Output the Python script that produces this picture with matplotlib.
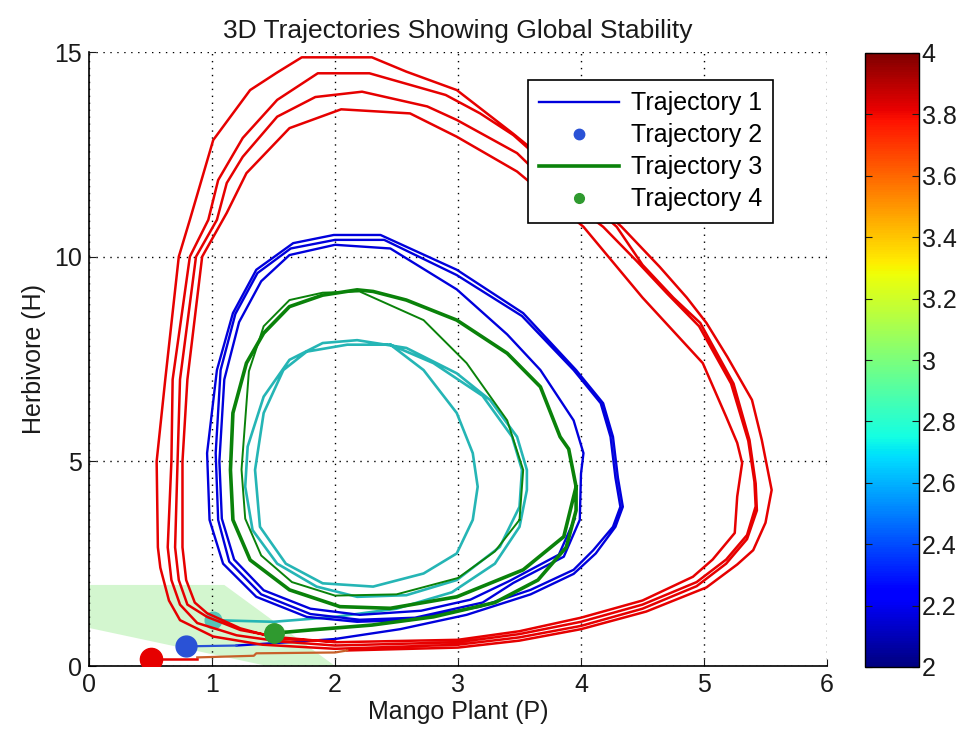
import matplotlib
matplotlib.use("Agg")
import matplotlib.pyplot as plt
from matplotlib.patches import Polygon
from matplotlib.cm import ScalarMappable
from matplotlib.colors import Normalize

plt.rcParams['font.family'] = ['Liberation Sans', 'DejaVu Sans']

# start points (P, H)
red_start = (0.50, 0.18)
blue_start = (0.79, 0.48)
green_start = (1.50, 0.80)
cyan_start = (1.01, 1.12)

# red trajectory: lead-in + four loops
red_lead = [(0.50, 0.18), (0.88, 0.18)]
brown_lead = [(0.88, 0.21), (1.34, 0.25), (1.36, 0.31), (2.0, 0.33), (2.1, 0.38)]
red_loop1 = [(2.1, 0.38), (3.0, 0.45), (3.5, 0.62), (4.0, 0.9), (4.53, 1.33), (5.02, 1.92),
             (5.27, 2.48), (5.4, 2.83), (5.5, 3.5), (5.55, 4.3), (5.47, 5.52), (5.39, 6.5),
             (5.19, 7.55), (5.02, 8.38), (4.86, 9.0), (4.64, 9.75), (4.33, 10.73), (3.9, 11.9),
             (3.45, 13.0), (2.99, 14.07), (2.58, 14.52), (2.3, 14.87), (1.73, 14.87), (1.53, 14.5),
             (1.31, 14.07), (1.01, 12.85), (0.82, 10.9), (0.73, 10.0), (0.62, 7.0), (0.55, 5.0),
             (0.56, 2.9), (0.58, 2.4), (0.65, 1.6), (0.74, 1.12), (1.01, 0.72), (1.41, 0.52),
             (2.0, 0.42)]
red_loop2 = [(2.0, 0.42), (3.0, 0.52), (3.5, 0.7), (4.0, 0.98), (4.5, 1.4), (4.94, 1.95),
             (5.18, 2.5), (5.35, 3.1), (5.43, 3.8), (5.42, 4.46), (5.37, 5.52), (5.24, 6.9),
             (4.97, 8.38), (4.75, 9.0), (4.5, 9.8), (4.29, 10.73), (3.85, 11.9), (3.45, 12.97),
             (3.18, 13.5), (2.9, 13.95), (2.28, 14.48), (1.86, 14.48), (1.53, 13.83), (1.25, 12.9),
             (1.05, 11.87), (0.97, 10.9), (0.82, 10.0), (0.68, 7.0), (0.67, 5.0), (0.64, 2.9),
             (0.67, 2.1), (0.74, 1.5), (0.88, 1.05), (1.2, 0.75), (1.55, 0.6), (2.0, 0.5)]
red_loop3 = [(2.0, 0.5), (3.0, 0.58), (3.5, 0.78), (4.0, 1.08), (4.5, 1.5), (4.94, 2.05),
             (5.18, 2.6), (5.35, 3.2), (5.42, 3.9), (5.41, 4.5), (5.36, 5.5), (5.22, 6.9),
             (4.96, 8.3), (4.7, 9.1), (4.45, 9.9), (4.18, 10.73), (3.8, 11.6), (3.48, 12.53),
             (2.99, 13.34), (2.75, 13.67), (2.22, 14.03), (1.84, 13.9), (1.53, 13.42), (1.25, 12.44),
             (1.12, 11.8), (1.04, 10.9), (0.87, 10.0), (0.74, 7.0), (0.72, 5.0), (0.7, 2.9),
             (0.73, 2.1), (0.8, 1.5), (0.96, 1.2), (1.23, 0.88), (1.55, 0.7), (2.0, 0.58)]
red_loop4 = [(2.0, 0.58), (3.0, 0.64), (3.5, 0.85), (4.0, 1.18), (4.5, 1.6), (4.91, 2.18),
             (5.07, 2.6), (5.25, 3.25), (5.27, 4.14), (5.31, 4.96), (5.27, 5.45), (5.18, 6.09),
             (4.99, 7.4), (4.5, 9.0), (4.02, 10.73), (3.48, 12.08), (2.99, 12.93), (2.61, 13.5),
             (2.05, 13.6), (1.63, 13.14), (1.28, 12.04), (1.12, 11.07), (0.92, 10.0), (0.8, 7.0),
             (0.76, 5.0), (0.76, 2.9), (0.79, 2.1), (0.86, 1.55), (0.96, 1.29), (1.23, 0.92),
             (1.55, 0.66), (2.0, 0.6)]

# blue trajectory
blue_dot_lead = [(0.79, 0.48), (1.2, 0.5)]
blue_lead = [(1.2, 0.5), (1.72, 0.6), (2.0, 0.66), (2.53, 0.9), (3.07, 1.25),
             (3.59, 1.75), (3.94, 2.25), (4.12, 2.75), (4.28, 3.4), (4.34, 3.89), (4.3, 4.6)]
blue_loop1 = [(4.3, 4.6), (4.26, 5.6), (4.18, 6.42), (3.96, 7.23), (3.53, 8.62), (2.99, 9.68),
              (2.37, 10.53), (1.99, 10.53), (1.66, 10.33), (1.36, 9.68), (1.17, 8.62), (1.04, 7.23),
              (0.96, 5.2), (0.98, 3.57), (1.09, 2.5), (1.36, 1.69), (1.77, 1.2), (2.18, 1.08),
              (2.6, 1.12), (3.18, 1.45), (3.59, 1.86), (3.94, 2.35), (4.1, 2.83), (4.26, 3.4),
              (4.32, 3.89), (4.28, 4.6)]
blue_loop2 = [(4.28, 4.6), (4.24, 5.6), (4.16, 6.42), (3.94, 7.23), (3.52, 8.55), (2.99, 9.55),
              (2.4, 10.41), (2.0, 10.41), (1.64, 10.2), (1.37, 9.6), (1.19, 8.6), (1.07, 7.23),
              (1.03, 5.2), (1.05, 3.57), (1.14, 2.55), (1.4, 1.75), (1.8, 1.27), (2.2, 1.13),
              (2.65, 1.18), (3.2, 1.55), (3.45, 2.03), (3.86, 2.67), (3.99, 3.57), (4.0, 4.7)]
blue_loop3 = [(4.0, 4.7), (4.02, 5.2), (3.94, 6.0), (3.67, 7.23), (3.4, 8.1), (2.99, 9.2),
              (2.45, 10.2), (2.0, 10.29), (1.63, 10.04), (1.4, 9.4), (1.22, 8.4), (1.1, 7.0),
              (1.06, 5.0), (1.08, 3.6), (1.18, 2.6), (1.42, 1.85), (1.8, 1.4), (2.2, 1.25),
              (2.7, 1.35), (3.1, 1.62), (3.42, 2.08), (3.82, 2.72), (3.95, 3.6)]

# green trajectory
green_lead = [(1.5, 0.8), (1.8, 0.88), (2.3, 1.0), (2.8, 1.2), (3.3, 1.55), (3.65, 2.1),
              (3.88, 2.9), (3.96, 3.8), (3.96, 4.38)]
green_loop1 = [(3.96, 4.38), (3.9, 5.3), (3.83, 5.6), (3.67, 6.82), (3.4, 7.64), (2.99, 8.45),
               (2.58, 8.94), (2.31, 9.15), (2.18, 9.19), (1.9, 9.06), (1.63, 8.78), (1.42, 8.13),
               (1.28, 7.4), (1.17, 6.18), (1.15, 4.79), (1.17, 3.57), (1.31, 2.59), (1.63, 1.86),
               (2.04, 1.45), (2.45, 1.41), (2.99, 1.69), (3.53, 2.35), (3.86, 3.16), (3.96, 4.38)]
green_loop2 = [(3.5, 3.57), (3.53, 4.79), (3.4, 6.0), (3.07, 7.4), (2.72, 8.45), (2.2, 9.15),
               (1.9, 9.12), (1.63, 8.94), (1.42, 8.3), (1.3, 7.2), (1.24, 4.8), (1.27, 3.6),
               (1.4, 2.7), (1.65, 2.05), (2.0, 1.72), (2.5, 1.75), (3.0, 2.15), (3.3, 2.8),
               (3.5, 3.57)]

# cyan trajectory
cyan_lead = [(1.01, 1.12), (1.5, 1.08), (2.0, 1.2), (2.5, 1.4), (2.95, 1.8), (3.3, 2.5),
             (3.5, 3.4), (3.56, 4.3)]
cyan_loop1 = [(3.56, 4.3), (3.56, 4.79), (3.48, 5.6), (3.26, 6.5), (2.99, 7.15), (2.58, 7.77),
              (2.18, 7.96), (1.9, 7.89), (1.63, 7.48), (1.42, 6.58), (1.29, 5.36), (1.27, 4.38),
              (1.33, 3.32), (1.53, 2.5), (1.85, 1.94), (2.18, 1.69), (2.58, 1.73), (2.99, 2.1),
              (3.34, 2.91), (3.5, 3.89), (3.52, 4.79), (3.44, 5.6), (3.2, 6.6), (2.8, 7.4),
              (2.45, 7.85)]
cyan_loop2 = [(2.45, 7.85), (2.72, 7.23), (2.99, 6.18), (3.12, 5.2), (3.16, 4.38), (3.12, 3.57),
              (2.99, 2.75), (2.72, 2.26), (2.31, 1.94), (1.9, 2.02), (1.6, 2.5), (1.39, 3.4),
              (1.35, 4.79), (1.42, 6.18), (1.58, 7.23), (1.77, 7.68), (2.1, 7.85), (2.45, 7.85)]

# shaded plane in the corner
plane = [(0.0, 0.93), (0.0, 1.98), (1.1, 1.98), (2.0, 0.0), (1.45, 0.0)]

x_ticks = [0, 1, 2, 3, 4, 5, 6]
y_ticks = [0, 5, 10, 15]
cbar_ticks = [2, 2.2, 2.4, 2.6, 2.8, 3, 3.2, 3.4, 3.6, 3.8, 4]
cbar_labels = ['2', '2.2', '2.4', '2.6', '2.8', '3', '3.2', '3.4', '3.6', '3.8', '4']
legend_labels = ['Trajectory 1', 'Trajectory 2', 'Trajectory 3', 'Trajectory 4']

red = '#e60000'
blue = '#0000dc'
green = '#0a820a'
cyan = '#25b5b5'
txt = '#1a1a1a'
fs = 18


def xs(pts):
    return [p[0] for p in pts]


def ys(pts):
    return [p[1] for p in pts]


def join(*loops):
    out = []
    for l in loops:
        out += l
    return out


fig = plt.figure(figsize=(9.65, 7.31), dpi=100)
ax = fig.add_axes([89 / 965, 1 - 666 / 731, 738 / 965, 614 / 731])
cax = fig.add_axes([865 / 965, 1 - 667 / 731, 54 / 965, 614 / 731])

ax.add_patch(Polygon(plane, closed=True, facecolor='#d3f6cf', edgecolor='none', zorder=0))

# legend handles first (as in the original figure)
blue_path = join(blue_lead, blue_loop1, blue_loop2, blue_loop3)
b_line, = ax.plot(xs(blue_path), ys(blue_path), color=blue, lw=1.7, zorder=3)
ax.plot(xs(blue_dot_lead), ys(blue_dot_lead), color='#2a52d6', lw=1.6, zorder=3)
b_dot, = ax.plot([blue_start[0]], [blue_start[1]], color='#2a52d6', marker='o',
                 markersize=15, linestyle='none', zorder=6)
green_path = join(green_lead, green_loop1)
g_line, = ax.plot(xs(green_path), ys(green_path), color=green, lw=2.6, zorder=4)
ax.plot(xs(green_loop2), ys(green_loop2), color=green, lw=1.4, zorder=4)
g_dot, = ax.plot([green_start[0]], [green_start[1]], color='#2f9a2f', marker='o',
                 markersize=14, linestyle='none', zorder=6)

cyan_path = join(cyan_lead, cyan_loop1, cyan_loop2)
ax.plot(xs(cyan_path), ys(cyan_path), color=cyan, lw=1.9, zorder=2)
ax.plot([cyan_start[0]], [cyan_start[1]], color='#55c3b8', marker='o', markersize=12,
        linestyle='none', zorder=2)

red_path = join(red_loop1, red_loop2, red_loop3, red_loop4)
ax.plot(xs(red_path), ys(red_path), color=red, lw=1.8, zorder=5)
ax.plot(xs(brown_lead), ys(brown_lead), color='#c8602a', lw=1.6, zorder=5)
ax.plot(xs(red_lead), ys(red_lead), color=red, lw=1.8, zorder=5)
ax.plot([red_start[0]], [red_start[1]], color=red, marker='o', markersize=16,
        linestyle='none', zorder=7)

ax.set_xlim(0, 6)
ax.set_ylim(0, 15)
ax.set_xticks(x_ticks)
ax.set_yticks(y_ticks)
ax.grid(True, linestyle=(0, (1, 4)), color='black', lw=1.0)
ax.set_axisbelow(True)
for s in ['top', 'right']:
    ax.spines[s].set_visible(False)
ax.spines['left'].set_linewidth(1.2)
ax.spines['bottom'].set_linewidth(1.2)
ax.tick_params(direction='in', length=5, labelsize=fs, colors=txt, pad=5)

ax.set_title('3D Trajectories Showing Global Stability', fontsize=19, pad=10, color=txt)
ax.set_xlabel('Mango Plant (P)', fontsize=fs, color=txt, labelpad=2)
ax.set_ylabel('Herbivore (H)', fontsize=fs, color=txt, labelpad=6)

leg = ax.legend([b_line, b_dot, g_line, g_dot], legend_labels, loc='upper right',
                bbox_to_anchor=(0.927, 0.954), fontsize=fs, markerscale=0.5,
                fancybox=False, framealpha=1, edgecolor='black', handlelength=3.2,
                labelspacing=0.32, borderpad=0.45, handletextpad=0.45, borderaxespad=0)
leg.get_frame().set_linewidth(1.2)
leg.set_zorder(10)

sm = ScalarMappable(norm=Normalize(2, 4), cmap='jet')
cb = fig.colorbar(sm, cax=cax, ticks=cbar_ticks)
cb.ax.set_yticklabels(cbar_labels)
cb.ax.tick_params(direction='in', left=True, right=True, length=5, labelsize=fs,
                  colors=txt, pad=2)
cb.outline.set_linewidth(1.0)

fig.savefig('out.png', dpi=100)
plt.close()
